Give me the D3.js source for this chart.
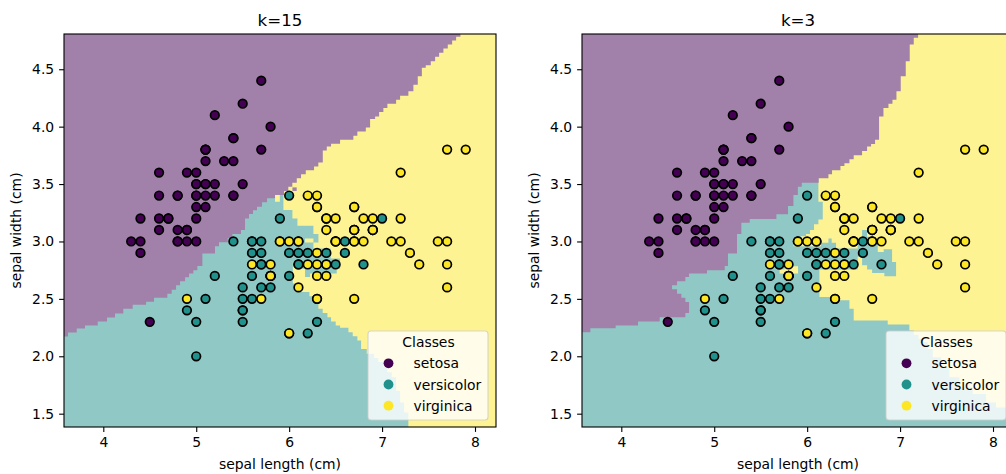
<!DOCTYPE html>
<html>
<head>
<script src="https://d3js.org/d3.v7.min.js" charset="utf-8"></script>
<style>
    body{margin:0;background:#fff;overflow:hidden}
    svg{display:block}
    text{font-family:"DejaVu Sans";fill:#000}
</style>
</head>
<body>
<div id="chart"></div>
<script>
    var classNames = ["setosa","versicolor","virginica"]
    var xTicks = [4,5,6,7,8]
    var yTicks = [1.5,2,2.5,3,3.5,4,4.5]

    // [sepal length, sepal width]
    var setosa = [[5.1,3.5],[4.9,3.0],[4.7,3.2],[4.6,3.1],[5.0,3.6],[5.4,3.9],[4.6,3.4],[5.0,3.4],[4.4,2.9],[4.9,3.1],
        [5.4,3.7],[4.8,3.4],[4.8,3.0],[4.3,3.0],[5.8,4.0],[5.7,4.4],[5.4,3.9],[5.1,3.5],[5.7,3.8],[5.1,3.8],
        [5.4,3.4],[5.1,3.7],[4.6,3.6],[5.1,3.3],[4.8,3.4],[5.0,3.0],[5.0,3.4],[5.2,3.5],[5.2,3.4],[4.7,3.2],
        [4.8,3.1],[5.4,3.4],[5.2,4.1],[5.5,4.2],[4.9,3.1],[5.0,3.2],[5.5,3.5],[4.9,3.6],[4.4,3.0],[5.1,3.4],
        [5.0,3.5],[4.5,2.3],[4.4,3.2],[5.0,3.5],[5.1,3.8],[4.8,3.0],[5.1,3.8],[4.6,3.2],[5.3,3.7],[5.0,3.3]]
    var versicolor = [[7.0,3.2],[6.4,3.2],[6.9,3.1],[5.5,2.3],[6.5,2.8],[5.7,2.8],[6.3,3.3],[4.9,2.4],[6.6,2.9],[5.2,2.7],
        [5.0,2.0],[5.9,3.0],[6.0,2.2],[6.1,2.9],[5.6,2.9],[6.7,3.1],[5.6,3.0],[5.8,2.7],[6.2,2.2],[5.6,2.5],
        [5.9,3.2],[6.1,2.8],[6.3,2.5],[6.1,2.8],[6.4,2.9],[6.6,3.0],[6.8,2.8],[6.7,3.0],[6.0,2.9],[5.7,2.6],
        [5.5,2.4],[5.5,2.4],[5.8,2.7],[6.0,2.7],[5.4,3.0],[6.0,3.4],[6.7,3.1],[6.3,2.3],[5.6,3.0],[5.5,2.5],
        [5.5,2.6],[6.1,3.0],[5.8,2.6],[5.0,2.3],[5.6,2.7],[5.7,3.0],[5.7,2.9],[6.2,2.9],[5.1,2.5],[5.7,2.8]]
    var virginica = [[6.3,3.3],[5.8,2.7],[7.1,3.0],[6.3,2.9],[6.5,3.0],[7.6,3.0],[4.9,2.5],[7.3,2.9],[6.7,2.5],[7.2,3.6],
        [6.5,3.2],[6.4,2.7],[6.8,3.0],[5.7,2.5],[5.8,2.8],[6.4,3.2],[6.5,3.0],[7.7,3.8],[7.7,2.6],[6.0,2.2],
        [6.9,3.2],[5.6,2.8],[7.7,2.8],[6.3,2.7],[6.7,3.3],[7.2,3.2],[6.2,2.8],[6.1,3.0],[6.4,2.8],[7.2,3.0],
        [7.4,2.8],[7.9,3.8],[6.4,2.8],[6.3,2.8],[6.1,2.6],[7.7,3.0],[6.3,3.4],[6.4,3.1],[6.0,3.0],[6.9,3.1],
        [6.7,3.1],[6.9,3.1],[5.8,2.7],[6.8,3.2],[6.7,3.3],[6.7,3.0],[6.3,2.5],[6.5,3.0],[6.2,3.4],[5.9,3.0]]

    // lower edge of the setosa region, as steps [x where the step starts, y]
    var setosaEdgeK15 = [[3.577,2.172],[3.62,2.207],[3.714,2.242],[3.803,2.268],[3.94,2.303],[4.04,2.338],[4.126,2.373],
        [4.215,2.414],[4.316,2.449],[4.46,2.476],[4.546,2.51],[4.689,2.545],[4.736,2.58],[4.783,2.618],[4.826,2.653],
        [4.88,2.688],[4.923,2.72],[4.969,2.749],[5.012,2.787],[5.066,2.895],[5.202,2.959],[5.245,2.994],[5.339,3.029],
        [5.389,3.064],[5.482,3.099],[5.525,3.201],[5.568,3.239],[5.611,3.271],[5.654,3.302],[5.708,3.341],[5.762,3.376],
        [5.848,3.405],[5.945,3.44],[5.991,3.477],[6.034,3.512],[6.082,3.551],[6.128,3.586],[6.179,3.621],[6.268,3.652],
        [6.314,3.687],[6.362,3.792],[6.405,3.827],[6.451,3.851],[6.548,3.885],[6.691,3.92],[6.734,3.958],[6.825,3.993],
        [6.871,4.066],[6.925,4.089],[6.968,4.128],[7.014,4.163],[7.057,4.2],[7.151,4.235],[7.194,4.27],[7.283,4.308],
        [7.337,4.366],[7.384,4.439],[7.428,4.512],[7.47,4.535],[7.524,4.57],[7.571,4.608],[7.614,4.644],[7.66,4.681],
        [7.707,4.716],[7.754,4.751],[7.797,4.783],[7.843,4.81]]
    var setosaEdgeK3 = [[3.577,2.21],[3.667,2.245],[3.939,2.268],[4.18,2.303],[4.413,2.341],[4.689,2.376],[4.729,2.472],
        [4.689,2.51],[4.646,2.545],[4.6,2.583],[4.546,2.618],[4.6,2.653],[4.689,2.691],[4.729,2.72],[4.922,2.749],
        [5.113,2.787],[5.148,2.895],[5.245,3.064],[5.292,3.163],[5.382,3.195],[5.669,3.236],[5.794,3.308],[5.852,3.405],
        [5.9,3.477],[5.942,3.512],[6.124,3.55],[6.229,3.585],[6.268,3.62],[6.358,3.658],[6.401,3.681],[6.455,3.716],
        [6.501,3.751],[6.591,3.789],[6.645,3.827],[6.688,3.85],[6.731,3.885],[6.774,4.089],[6.821,4.162],[6.875,4.2],
        [6.918,4.235],[6.961,4.308],[7.007,4.439],[7.061,4.57],[7.104,4.716],[7.147,4.774],[7.194,4.81]]

    // outline of the versicolor region, the top of it sits under setosa
    var versicolorK15 = [[3.57,1.38],[3.57,3.42],[5.938,3.42],[5.938,3.273],[6.035,3.273],[6.035,3.2],[6.089,3.2],[6.089,3.136],
        [6.261,3.136],[6.261,3.064],[6.315,3.064],[6.315,2.991],[6.261,2.991],[6.261,2.938],[6.447,2.938],[6.447,2.851],
        [6.548,2.851],[6.548,2.763],[6.512,2.763],[6.512,2.72],[6.225,2.72],[6.225,2.691],[6.171,2.691],[6.171,2.763],
        [6.135,2.763],[6.135,2.822],[6.04,2.822],[6.04,2.633],[6.117,2.633],[6.117,2.56],[6.218,2.56],[6.218,2.522],
        [6.261,2.522],[6.261,2.487],[6.315,2.487],[6.315,2.414],[6.361,2.414],[6.361,2.376],[6.412,2.376],[6.412,2.341],
        [6.451,2.341],[6.451,2.303],[6.501,2.303],[6.501,2.268],[6.548,2.268],[6.548,2.248],[6.638,2.248],[6.638,2.21],
        [6.684,2.21],[6.684,2.175],[6.734,2.175],[6.734,2.137],[6.774,2.137],[6.774,2.064],[6.835,2.064],[6.835,2.021],
        [6.914,2.021],[6.914,1.986],[6.96,1.986],[6.96,1.95],[7.014,1.95],[7.014,1.904],[7.057,1.904],[7.057,1.86],
        [7.104,1.86],[7.104,1.817],[7.151,1.817],[7.151,1.7],[7.194,1.7],[7.194,1.598],[7.237,1.598],[7.237,1.51],
        [7.283,1.51],[7.283,1.38]]
    var versicolorK3 = [[3.57,1.38],[3.57,3.6],[6.121,3.6],[6.121,3.347],[6.168,3.347],[6.168,3.192],[6.121,3.192],[6.121,3.15],
        [6.074,3.15],[6.074,3.1],[6.031,3.1],[6.031,3.065],[5.988,3.065],[5.988,3.046],[5.934,3.046],[5.934,3.026],
        [5.852,3.026],[5.852,2.959],[6.15,2.959],[6.15,2.988],[6.229,2.988],[6.229,3.026],[6.264,3.026],[6.264,2.988],
        [6.311,2.988],[6.311,2.939],[6.544,2.939],[6.544,3.026],[6.591,3.026],[6.591,3.099],[6.645,3.099],[6.645,3.041],
        [6.699,3.041],[6.699,2.982],[6.76,2.982],[6.76,2.909],[6.824,2.909],[6.824,2.933],[6.914,2.933],[6.914,2.822],
        [6.957,2.822],[6.957,2.697],[6.831,2.697],[6.831,2.726],[6.699,2.726],[6.699,2.755],[6.645,2.755],[6.645,2.793],
        [6.591,2.793],[6.591,2.866],[6.544,2.866],[6.544,2.755],[6.132,2.755],[6.132,2.516],[6.347,2.516],[6.347,2.487],
        [6.455,2.487],[6.455,2.414],[6.501,2.414],[6.501,2.312],[6.867,2.312],[6.867,2.277],[7.1,2.277],[7.1,2.225],
        [7.147,2.225],[7.147,2.187],[7.198,2.187],[7.198,2.152],[7.244,2.152],[7.244,2.123],[7.298,2.123],[7.298,2.064],
        [7.352,2.064],[7.352,1.991],[7.441,1.991],[7.441,1.904],[7.531,1.904],[7.531,1.817],[7.639,1.817],[7.639,1.729],
        [7.782,1.729],[7.782,1.671],[7.926,1.671],[7.926,1.598],[8.033,1.598],[8.033,1.554],[8.141,1.554],[8.141,1.51],
        [8.23,1.51],[8.23,1.38]]

    // small stray patches
    var patchesK15 = [
        {c:2,pts:[[5.848,3.405],[5.9,3.405],[5.9,3.346],[5.848,3.346]]},
        {c:2,pts:[[6.171,3.026],[6.261,3.026],[6.261,2.991],[6.171,2.991]]},
        {c:0,pts:[[6.035,3.471],[6.081,3.471],[6.081,3.44],[6.035,3.44]]}
    ]
    var patchesK3 = [
        {c:2,pts:[[5.758,2.784],[5.902,2.784],[5.902,2.72],[5.704,2.72],[5.704,2.755],[5.758,2.755]]}
    ]

    var pointColors = ["#440154","#21918c","#fde725"]
    var regionColors = ["#a180a9","#90c8c5","#fef392"]

    var svg = d3.select("#chart").append("svg").attr("width",1006).attr("height",474)
    var top_ = 34, bottom = 427
    var yScale = d3.scaleLinear().domain([1.384,4.807]).range([bottom,top_])

    function drawPanel(left,title,clipId,setosaEdge,versicolorEdge,patches){
        var xScale = d3.scaleLinear().domain([3.577,8.226]).range([left,left+432])
        var g = svg.append("g")

        g.append("clipPath").attr("id",clipId).append("rect")
            .attr("x",left).attr("y",top_).attr("width",432).attr("height",bottom-top_)

        var regions = g.append("g").attr("clip-path","url(#"+clipId+")")
        var straight = d3.line().x(function(d){return xScale(d[0])}).y(function(d){return yScale(d[1])})
        var stepped = d3.line().x(function(d){return xScale(d[0])}).y(function(d){return yScale(d[1])}).curve(d3.curveStepAfter)

        regions.append("rect").attr("x",left).attr("y",top_).attr("width",432).attr("height",bottom-top_)
            .attr("fill",regionColors[2])
        regions.append("path").attr("d",straight(versicolorEdge)+"Z").attr("fill",regionColors[1])
        var last = setosaEdge[setosaEdge.length-1]
        var outline = setosaEdge.concat([[last[0],4.9],[3.5,4.9],[3.5,setosaEdge[0][1]]])
        regions.append("path").attr("d",stepped(outline)+"Z").attr("fill",regionColors[0])
        regions.selectAll(".patch").data(patches).enter().append("path")
            .attr("class","patch")
            .attr("d",function(d){return straight(d.pts)+"Z"})
            .attr("fill",function(d){return regionColors[d.c]})

        ;[setosa,versicolor,virginica].forEach(function(rows,c){
            g.selectAll(".pt"+c).data(rows).enter().append("circle")
                .attr("class","pt"+c)
                .attr("cx",function(d){return xScale(d[0])})
                .attr("cy",function(d){return yScale(d[1])})
                .attr("r",4.3)
                .attr("fill",pointColors[c])
                .attr("stroke","#000")
                .attr("stroke-width",1.7)
        })

        // frame
        g.append("rect").attr("x",left).attr("y",top_).attr("width",432).attr("height",bottom-top_)
            .attr("fill","none").attr("stroke","#000").attr("stroke-width",1.1)

        var xAxis = g.append("g").attr("transform","translate(0,"+bottom+")")
            .call(d3.axisBottom(xScale).tickValues(xTicks).tickSize(4.9).tickPadding(4.9).tickFormat(d3.format("d")))
        var yAxis = g.append("g").attr("transform","translate("+left+",0)")
            .call(d3.axisLeft(yScale).tickValues(yTicks).tickSize(4.9).tickPadding(4.9).tickFormat(d3.format(".1f")))
        ;[xAxis,yAxis].forEach(function(a){
            a.select(".domain").remove()
            a.selectAll("line").attr("stroke","#000").attr("stroke-width",1.1)
            a.selectAll("text").attr("font-size",13.9).attr("font-family","DejaVu Sans").attr("fill","#000")
        })

        g.append("text").attr("x",left+216).attr("y",25.5).attr("text-anchor","middle").attr("font-size",16.67).text(title)
        g.append("text").attr("x",left+216).attr("y",469).attr("text-anchor","middle").attr("font-size",13.9).text("sepal length (cm)")
        g.append("text").attr("transform","translate("+(left-43)+","+((top_+bottom)/2)+") rotate(-90)")
            .attr("text-anchor","middle").attr("font-size",13.9).text("sepal width (cm)")

        // legend
        var lx = left+304, ly = 331
        g.append("rect").attr("x",lx).attr("y",ly).attr("width",120).attr("height",89).attr("rx",3)
            .attr("fill","#fff").attr("fill-opacity",0.8).attr("stroke","#ccc").attr("stroke-opacity",0.8).attr("stroke-width",1.1)
        g.append("text").attr("x",lx+60.5).attr("y",347).attr("text-anchor","middle").attr("font-size",13.9).text("Classes")
        var rowY = d3.scalePoint().domain(classNames).range([363.3,405.7])
        classNames.forEach(function(name,c){
            g.append("circle").attr("cx",lx+20.5).attr("cy",rowY(name)).attr("r",4.9).attr("fill",pointColors[c])
            g.append("text").attr("x",lx+45.5).attr("y",rowY(name)+5).attr("font-size",13.9).text(name)
        })
    }

    drawPanel(64,"k=15","clipA",setosaEdgeK15,versicolorK15,patchesK15)
    drawPanel(582,"k=3","clipB",setosaEdgeK3,versicolorK3,patchesK3)
</script>
</body>
</html>
